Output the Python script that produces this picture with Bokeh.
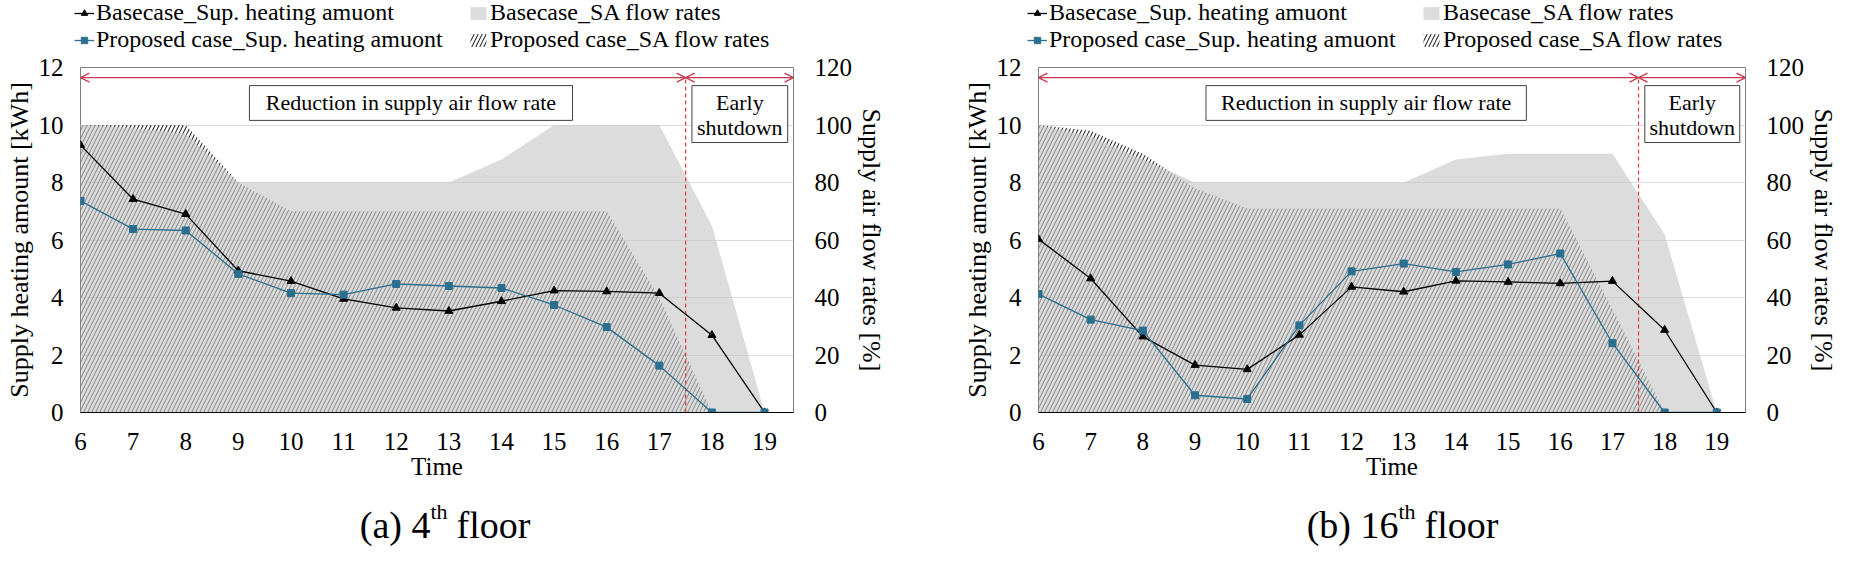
from bokeh.plotting import figure
from bokeh.models import (Range1d, LinearAxis, FixedTicker, Legend, LegendItem,
                          Arrow, OpenHead, ColumnDataSource)
from bokeh.layouts import row, column
from bokeh.embed import file_html
from bokeh.resources import INLINE
from bokeh.core.properties import value

# ---------------- data ----------------
hours = [6, 7, 8, 9, 10, 11, 12, 13, 14, 15, 16, 17, 18, 19]
x_tick_labels = [str(h) for h in hours]
heat_ticks = [0, 2, 4, 6, 8, 10, 12]
sa_ticks = [0, 20, 40, 60, 80, 100, 120]

# 4th floor
base_heat_4f = [9.30, 7.42, 6.90, 4.93, 4.57, 3.95, 3.64, 3.53, 3.87, 4.24, 4.21, 4.15, 2.69, 0.00]
prop_heat_4f = [7.36, 6.38, 6.33, 4.82, 4.15, 4.10, 4.47, 4.40, 4.33, 3.74, 2.97, 1.63, 0.00, 0.00]
base_sa_4f = [100, 99, 97, 80, 80, 80, 80, 80, 88, 100, 100, 100, 65, 0]
prop_sa_4f = [100, 100, 100, 80, 70, 70, 70, 70, 70, 70, 70, 40, 0, 0]

# 16th floor
base_heat_16f = [6.03, 4.66, 2.64, 1.65, 1.50, 2.70, 4.37, 4.20, 4.58, 4.54, 4.49, 4.57, 2.87, 0.00]
prop_heat_16f = [4.12, 3.23, 2.85, 0.60, 0.47, 3.03, 4.91, 5.18, 4.89, 5.15, 5.53, 2.41, 0.00, 0.00]
base_sa_16f = [100, 96, 88, 80, 80, 80, 80, 80, 88, 90, 90, 90, 62, 0]
prop_sa_16f = [100, 98, 90, 78, 71, 71, 71, 71, 71, 71, 71, 36, 0, 0]

legend_labels = ["Basecase_Sup. heating amuont", "Proposed case_Sup. heating amuont",
                 "Basecase_SA flow rates", "Proposed case_SA flow rates"]
phase_labels = ["Reduction in supply air flow rate", "Early", "shutdown"]
caption_4f = ["(a) 4", "th", "floor"]
caption_16f = ["(b) 16", "th", "floor"]

# ---------------- style ----------------
FONT = "Liberation Serif"
RED = "#c83c50"
BLUE = "#2a6f8f"
SA_GRAY = "#c8c8c8"
SA_ALPHA = 0.64
HATCH = dict(hatch_pattern="/", hatch_color="#303030", hatch_scale=8, hatch_weight=1.1)
SHUTDOWN_X = 17.5
ARROW_Y = 11.65
X_MAX = 19.55
LEG_H = 53
TOP = 14
FRAME_H = 345
BOTTOM = 80
CAP_H = 58


def style_line(kind):
    if kind == "base":
        return (dict(line_color="black", line_width=1.3),
                dict(marker="triangle", size=8, fill_color="black", line_color="black"))
    return (dict(line_color=BLUE, line_width=1.3),
            dict(marker="square", size=7, fill_color=BLUE, line_color=BLUE))


def make_panel(base_heat, prop_heat, base_sa, prop_sa, width, bl, br):
    p = figure(width=width, height=TOP + FRAME_H + BOTTOM,
               x_range=Range1d(6, X_MAX), y_range=Range1d(0, 12),
               output_backend="svg", toolbar_location=None,
               min_border_left=bl, min_border_right=br,
               min_border_top=TOP, min_border_bottom=BOTTOM)
    p.extra_y_ranges = {"pct": Range1d(0, 120)}
    p.background_fill_color = "white"
    p.border_fill_color = "white"
    p.outline_line_color = "#808080"
    p.outline_line_width = 1

    xa = p.xaxis[0]
    xa.ticker = FixedTicker(ticks=hours)
    xa.major_label_overrides = {h: lab for h, lab in zip(hours, x_tick_labels)}
    xa.axis_label = "Time"
    ya = p.yaxis[0]
    ya.ticker = FixedTicker(ticks=heat_ticks)
    ya.axis_label = "Supply heating amount [kWh]"
    ra = LinearAxis(y_range_name="pct", ticker=FixedTicker(ticks=sa_ticks),
                    axis_label="Supply air flow rates [%]")
    p.add_layout(ra, "right")
    for ax in (xa, ya, ra):
        ax.major_tick_line_color = None
        ax.minor_tick_line_color = None
        ax.major_tick_out = 0
        ax.major_label_text_font = FONT
        ax.major_label_text_font_size = "25px"
        ax.major_label_text_color = "black"
        ax.axis_label_text_font = FONT
        ax.axis_label_text_font_size = "26px"
        ax.axis_label_text_font_style = "normal"
        ax.axis_label_text_color = "black"
    xa.axis_label_text_font_size = "25px"
    xa.axis_line_color = "black"
    xa.major_label_standoff = 20
    xa.axis_label_standoff = 0
    ya.axis_line_color = None
    ya.major_label_standoff = 17
    ya.axis_label_standoff = 2
    ra.axis_line_color = None
    ra.major_label_standoff = 21
    ra.axis_label_standoff = 2

    p.xgrid.grid_line_color = None
    p.ygrid.grid_line_color = "#dcdcdc"
    p.ygrid.grid_line_width = 1
    p.ygrid.ticker = FixedTicker(ticks=heat_ticks)

    src = ColumnDataSource(dict(h=hours, bh=base_heat, ph=prop_heat, bs=base_sa, ps=prop_sa))

    # areas
    p.varea(x="h", y1=0, y2="ps", source=src, y_range_name="pct",
            fill_color="white", fill_alpha=0.0, **HATCH)
    p.varea(x="h", y1=0, y2="bs", source=src, y_range_name="pct",
            fill_color=SA_GRAY, fill_alpha=SA_ALPHA)

    # phase annotations
    for xs, xe in ((6, SHUTDOWN_X), (SHUTDOWN_X, X_MAX)):
        p.add_layout(Arrow(start=OpenHead(size=9, line_color=RED, line_width=1.3),
                           end=OpenHead(size=9, line_color=RED, line_width=1.3),
                           x_start=xs, x_end=xe, y_start=ARROW_Y, y_end=ARROW_Y,
                           line_color=RED, line_width=1.3))
    p.segment(x0=[SHUTDOWN_X], y0=[0], x1=[SHUTDOWN_X], y1=[ARROW_Y],
              line_color="#e03c3c", line_width=1.2, line_dash="4 3")
    p.quad(left=[9.21, 17.62], right=[15.35, 19.44], top=[11.37, 11.37], bottom=[10.16, 9.39],
           fill_color="white", line_color="#404040", line_width=1)
    p.text(x=[12.28, 18.53, 18.53], y=[10.77, 10.79, 9.92], text=phase_labels,
           text_font=value(FONT), text_font_size="22px", text_align="center",
           text_baseline="middle", text_color="black")

    # lines
    bl_s, bm_s = style_line("base")
    pl_s, pm_s = style_line("prop")
    p.line("h", "bh", source=src, **bl_s)
    p.scatter("h", "bh", source=src, **bm_s)
    p.line("h", "ph", source=src, **pl_s)
    p.scatter("h", "ph", source=src, **pm_s)
    return p


def make_legend_fig(width, x0):
    # legend strip above a panel; its swatch renderers sit outside the visible range
    f = figure(width=width, height=LEG_H, x_range=Range1d(0, 1), y_range=Range1d(0, 1),
               output_backend="svg", toolbar_location=None, x_axis_type=None, y_axis_type=None,
               min_border=0)
    f.outline_line_color = None
    f.grid.grid_line_color = None
    f.background_fill_color = "white"
    bl_s, bm_s = style_line("base")
    pl_s, pm_s = style_line("prop")
    off = dict(x=[-5, -4], y=[-5, -5])
    r_bl = f.line(**off, **bl_s)
    r_bm = f.scatter(**off, **bm_s)
    r_pl = f.line(**off, **pl_s)
    r_pm = f.scatter(**off, **pm_s)
    offa = dict(x=[-5, -4], y1=[-5, -5], y2=[-4, -4])
    r_bsa = f.varea(**offa, fill_color=SA_GRAY, fill_alpha=SA_ALPHA)
    r_psa = f.varea(**offa, fill_color="white", fill_alpha=0.0, **HATCH)
    lg = Legend(items=[LegendItem(label=legend_labels[0], renderers=[r_bl, r_bm]),
                       LegendItem(label=legend_labels[1], renderers=[r_pl, r_pm]),
                       LegendItem(label=legend_labels[2], renderers=[r_bsa]),
                       LegendItem(label=legend_labels[3], renderers=[r_psa])],
                location=(x0, 0), orientation="vertical", ncols=2)
    lg.label_text_font = FONT
    lg.label_text_font_size = "24px"
    lg.label_text_color = "black"
    lg.glyph_width = 20
    lg.glyph_height = 16
    lg.label_standoff = 2
    lg.label_width = 372
    lg.label_height = 24
    lg.spacing = 0
    lg.padding = 0
    lg.margin = 0
    lg.border_line_color = None
    lg.background_fill_alpha = 0
    f.add_layout(lg)
    return f


def make_caption(parts, width, anchor_px):
    c = figure(width=width, height=CAP_H, x_range=Range1d(0, width), y_range=Range1d(0, CAP_H),
               output_backend="svg", toolbar_location=None, x_axis_type=None, y_axis_type=None,
               min_border=0)
    c.outline_line_color = None
    c.grid.grid_line_color = None
    c.text(x=[anchor_px], y=[26], text=[parts[0]], text_font=value(FONT), text_font_size="38px",
           text_align="right", text_baseline="alphabetic", text_color="black")
    c.text(x=[anchor_px], y=[39], text=[parts[1]], text_font=value(FONT), text_font_size="22px",
           text_align="left", text_baseline="alphabetic", text_color="black")
    c.text(x=[anchor_px + 26], y=[26], text=[parts[2]], text_font=value(FONT), text_font_size="38px",
           text_align="left", text_baseline="alphabetic", text_color="black")
    return c


W1, W2 = 945, 896
l1 = make_legend_fig(W1, 74)
l2 = make_legend_fig(W2, 82)
p1 = make_panel(base_heat_4f, prop_heat_4f, base_sa_4f, prop_sa_4f, W1, 80, 152)
p2 = make_panel(base_heat_16f, prop_heat_16f, base_sa_16f, prop_sa_16f, W2, 93, 90)
c1 = make_caption(caption_4f, W1, 430)
c2 = make_caption(caption_16f, W2, 453)

layout = column(row(l1, l2), row(p1, p2), row(c1, c2))
open("out.html", "w").write(file_html(layout, INLINE))
